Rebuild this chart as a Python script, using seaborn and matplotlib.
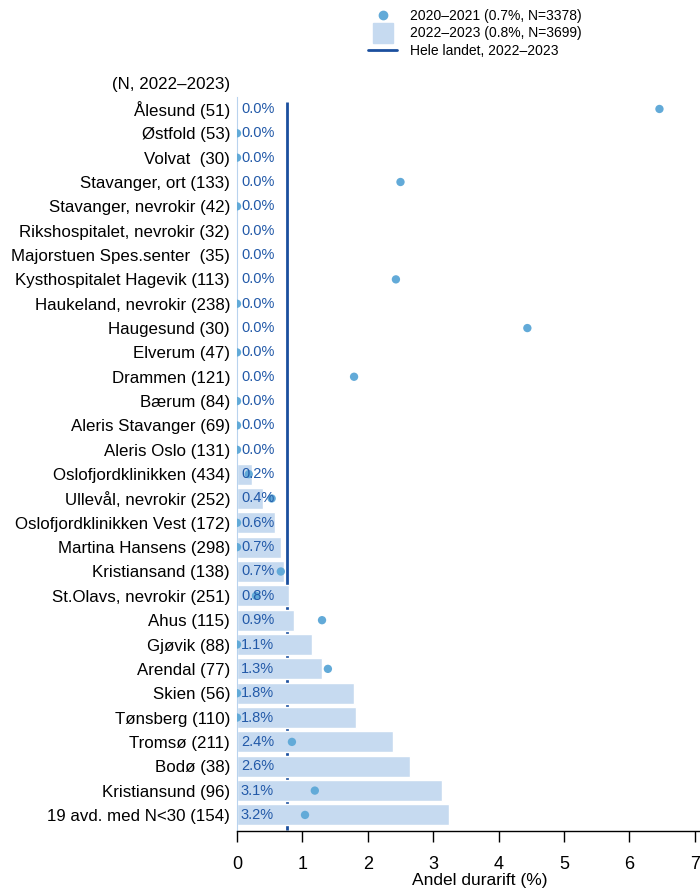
import numpy as np
import pandas as pd
import matplotlib
matplotlib.use("Agg")
import matplotlib.pyplot as plt
import seaborn as sns
from matplotlib.lines import Line2D

# =====================================
# DATA
# =====================================

units = [
    "Ålesund", "Østfold", "Volvat ", "Stavanger, ort", "Stavanger, nevrokir",
    "Rikshospitalet, nevrokir", "Majorstuen Spes.senter ", "Kysthospitalet Hagevik",
    "Haukeland, nevrokir", "Haugesund", "Elverum", "Drammen", "Bærum",
    "Aleris Stavanger", "Aleris Oslo", "Oslofjordklinikken", "Ullevål, nevrokir",
    "Oslofjordklinikken Vest", "Martina Hansens", "Kristiansand",
    "St.Olavs, nevrokir", "Ahus", "Gjøvik", "Arendal", "Skien", "Tønsberg",
    "Tromsø", "Bodø", "Kristiansund", "19 avd. med N<30",
]

n_2022_2023 = [51, 53, 30, 133, 42, 32, 35, 113, 238, 30, 47, 121, 84, 69, 131,
               434, 252, 172, 298, 138, 251, 115, 88, 77, 56, 110, 211, 38, 96, 154]

share_2022_2023 = [0, 0, 0, 0, 0, 0, 0, 0, 0, 0, 0, 0, 0, 0, 0,
                   0.23, 0.40, 0.58, 0.67, 0.72, 0.80, 0.87, 1.14, 1.30,
                   1.79, 1.82, 2.39, 2.64, 3.13, 3.24]

share_2020_2021 = [6.46, 0, 0, 2.50, 0, np.nan, np.nan, 2.43, 0, 4.44, 0, 1.79,
                   0, 0, 0, 0.18, 0.53, 0, 0, 0.67, 0.29, 1.30, 0, 1.39, 0, 0,
                   0.84, np.nan, 1.19, 1.04]

national_2022_2023 = 0.77

legend_labels = [
    "2020\u20132021 (0.7%, N=3378)",
    "2022\u20132023 (0.8%, N=3699)",
    "Hele landet, 2022\u20132023",
]

labels = [f"{u} ({n})" for u, n in zip(units, n_2022_2023)]

df = pd.DataFrame({
    "label": labels,
    "bar": share_2022_2023,
    "dot": share_2020_2021,
})
df["pos"] = np.arange(len(df))

# =====================================
# PLOT
# =====================================

sns.set_style("white")
plt.rcParams["font.family"] = ["Liberation Sans", "DejaVu Sans"]
plt.rcParams["text.color"] = "black"
plt.rcParams["xtick.color"] = "black"
plt.rcParams["ytick.color"] = "black"
plt.rcParams["axes.labelcolor"] = "black"

dot_color = "#62aad8"
bar_color = "#c6daf0"
line_color = "#1b4f9e"
text_color = "#2259a8"

fig = plt.figure(figsize=(7, 8.91), dpi=100)
ax = fig.add_axes([237 / 700, 1 - 831 / 891, 463 / 700, (831 - 96.8) / 891])

ax.vlines(national_2022_2023, -0.3, 29.6, color=line_color, linewidth=2, zorder=1)

sns.barplot(
    data=df, x="bar", y="label", orient="h",
    color=bar_color, width=0.86, saturation=1,
    ax=ax, zorder=2,
)

sns.scatterplot(
    data=df, x="dot", y="pos",
    color=dot_color, s=36, edgecolor="none", linewidth=0,
    ax=ax, zorder=3,
)

for i, v in enumerate(share_2022_2023):
    ax.text(0.06, i, f"{v:.1f}%", va="center", ha="left",
            fontsize=10.5, color=text_color, zorder=4)

ax.set_xlim(0, 7.08)
ax.set_ylim(29.66, -0.5)
ax.set_xticks(range(0, 8))
ax.set_xlabel("")
ax.set_ylabel("")

for side in ["top", "right"]:
    ax.spines[side].set_visible(False)
ax.spines["left"].set_color("#b9d3ee")
ax.spines["left"].set_linewidth(0.8)
ax.spines["bottom"].set_color("black")
ax.spines["bottom"].set_linewidth(1)

ax.tick_params(axis="y", length=0, pad=5, labelsize=12.2)
ax.tick_params(axis="x", direction="out", length=8, width=1,
               pad=10, labelsize=13, bottom=True)

fig.text(230 / 700, 1 - 84 / 891, "(N, 2022\u20132023)",
         ha="right", va="center", fontsize=12.2)
fig.text(480 / 700, 1 - 880 / 891, "Andel durarift (%)",
         ha="center", va="center", fontsize=12.5)

handles = [
    Line2D([], [], marker="o", linestyle="none", color=dot_color, markersize=6),
    Line2D([], [], marker="s", linestyle="none", color=bar_color, markersize=14),
    Line2D([], [], color=line_color, linewidth=2),
]
fig.legend(
    handles, legend_labels,
    loc="upper left", bbox_to_anchor=(368 / 700, 1 - 9 / 891),
    frameon=False, fontsize=10, borderaxespad=0, borderpad=0,
    labelspacing=0.25, handlelength=2.1, handletextpad=0.9,
)

plt.savefig("out.png", dpi=100)
plt.close()
